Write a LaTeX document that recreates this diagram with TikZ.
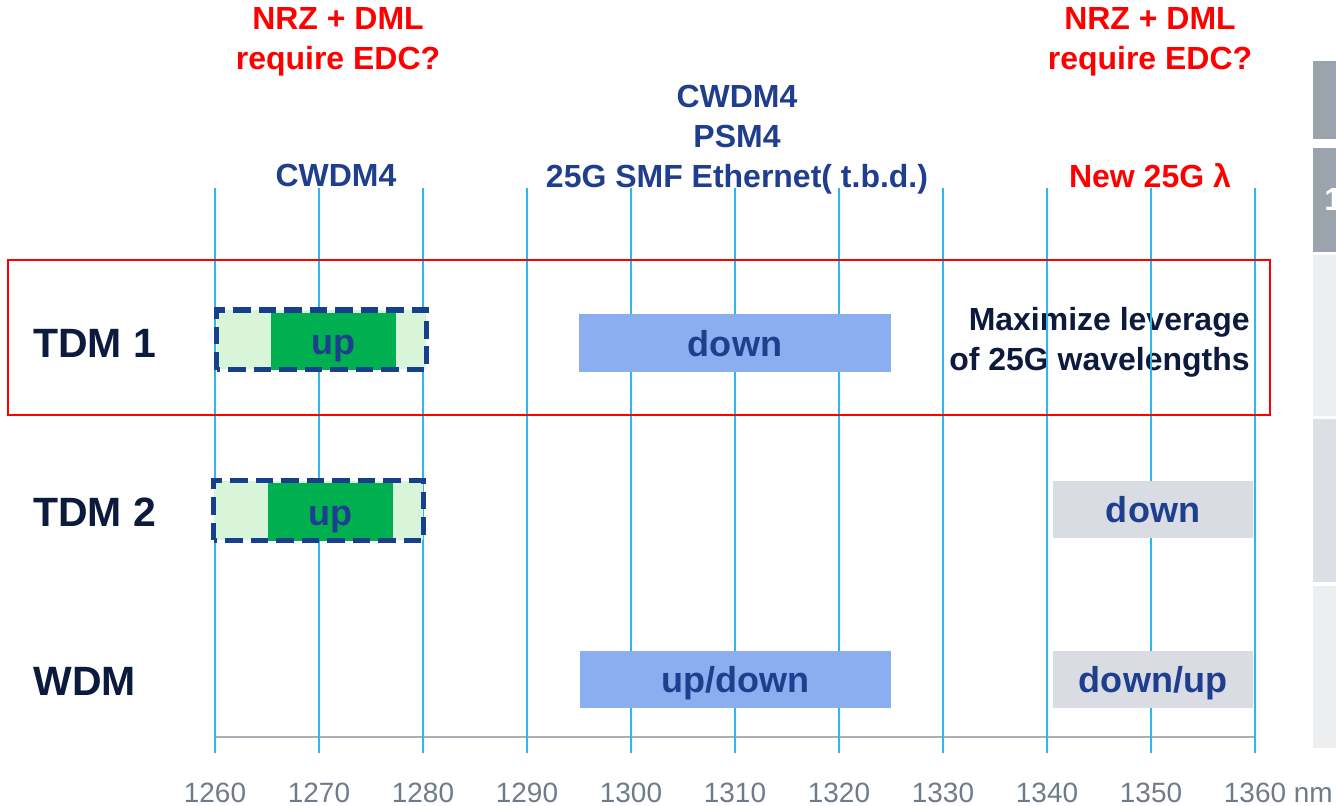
\documentclass[tikz,border=0pt]{standalone}
\usepackage{fontspec}
\setmainfont{Liberation Sans}
\definecolor{gridcyan}{HTML}{2DB7EB}
\definecolor{axisgray}{HTML}{A7AEB6}
\definecolor{tickgray}{HTML}{6E7B8B}
\definecolor{notered}{HTML}{FF0000}
\definecolor{noteblue}{HTML}{1F3E8E}
\definecolor{labelnavy}{HTML}{0C1A3E}
\definecolor{slotline}{HTML}{163F8C}
\definecolor{slotlight}{HTML}{D9F5D9}
\definecolor{upgreen}{HTML}{00B050}
\definecolor{downblue}{HTML}{8BAEF0}
\definecolor{downgray}{HTML}{D9DCE3}
\definecolor{paneldark}{HTML}{9BA3AC}
\definecolor{panelmid}{HTML}{DCDFE3}
\definecolor{panellight}{HTML}{EDEEF0}

\begin{document}
\begin{tikzpicture}[
    gridline/.style={draw=gridcyan, line width=1.1pt},
    axisline/.style={draw=axisgray, line width=1.1pt},
    ticklabel/.style={font=\fontsize{15.9}{19}\selectfont, text=tickgray, inner sep=0pt},
    headnote/.style={font=\fontsize{18.2}{22.6}\selectfont\bfseries, align=center, inner sep=0pt, text=noteblue},
    rednote/.style={headnote, text=notered},
    rowlabel/.style={font=\fontsize{23.3}{28}\selectfont\bfseries, text=labelnavy, anchor=west, inner sep=0pt},
    rowframe/.style={draw=notered, line width=1.4pt, minimum width=25.24cm, minimum height=3.10cm, inner sep=0pt},
    slotbox/.style={fill=slotlight, minimum width=4.18cm, minimum height=1.18cm, inner sep=0pt},
    slotdash/.style={draw=slotline, line width=3pt, dash pattern=on 10pt off 4.5pt},
    band/.style={inner sep=0pt, minimum height=1.15cm, text height=15pt, text depth=0pt,
                 font=\fontsize{20.5}{24}\selectfont\bfseries, text=noteblue},
    upbox/.style={band, fill=upgreen, minimum width=2.50cm},
    downbox/.style={band, fill=downblue, minimum width=6.23cm},
    graybox/.style={band, fill=downgray, minimum width=4.00cm}
  ]
    \useasboundingbox (0,0) rectangle (26.72,16.12);

    % this text sits under the grid lines
    \node[headnote, text=labelnavy, anchor=east, align=right] (leverage) at (25.00,9.27)
      {Maximize leverage\\of 25G wavelengths};

    % wavelength grid (10 nm = 2.08cm, 1260 nm at x=4.30)
    \draw[axisline] (4.30,1.38) -- (25.10,1.38);
    \foreach \i in {0,...,10}
      \draw[gridline] ({4.30+2.08*\i},12.36) -- ({4.30+2.08*\i},1.06);
    \foreach \wl [count=\i from 0] in {1260,1270,...,1350}
      \node[ticklabel] (tick\wl) at ({4.30+2.08*\i},0.26) {\wl};
    \node[ticklabel] (tick1360) at (25.10,0.26) {1360\rlap{ nm}};

    \node[rednote] (edcleft)  at (6.76,15.29)  {NRZ + DML\\require EDC?};
    \node[rednote] (edcright) at (23.00,15.29) {NRZ + DML\\require EDC?};
    \node[headnote] (cwdmleft) at (6.72,12.61) {CWDM4};
    \node[headnote] (cwdmmid)  at (14.74,13.33) {CWDM4\\PSM4\\25G SMF Ethernet( t.b.d.)};
    \node[rednote]  (newlambda) at (23.00,12.61) {New 25G λ};

    \node[rowframe] (frameA) at (12.78,9.37) {};

    \node[rowlabel] (tdmA) at (0.66,9.26) {TDM 1};
    \node[rowlabel] (tdmB) at (0.66,5.88) {TDM 2};
    \node[rowlabel] (wdm)  at (0.66,2.50) {WDM};

    % TDM 1
    \node[slotbox] (slotA) at (6.43,9.32) {};
    \node[upbox]   (upA)   at (6.67,9.29) {up};
    \draw[slotdash] (slotA.south west) rectangle (slotA.north east);
    \node[downbox] (downA) at (14.70,9.26) {down};

    % TDM 2
    \node[slotbox] (slotB) at (6.37,5.91) {};
    \node[upbox]   (upB)   at (6.61,5.88) {up};
    \draw[slotdash] (slotB.south west) rectangle (slotB.north east);
    \node[graybox] (downB) at (23.06,5.93) {down};

    % WDM
    \node[downbox] (updownW) at (14.71,2.53) {up/down};
    \node[graybox] (downupW) at (23.06,2.53) {down/up};

    % cut-off side panels
    \begin{scope}
      \clip (26.26,0) rectangle (26.72,16.12);
      \fill[paneldark]  (26.26,14.90) rectangle (26.72,13.34);
      \fill[paneldark]  (26.26,13.16) rectangle (26.72,11.08);
      \fill[panellight] (26.26,11.02) rectangle (26.72,7.80);
      \fill[panelmid]   (26.26,7.74)  rectangle (26.72,4.48);
      \fill[panellight] (26.26,4.40)  rectangle (26.72,1.16);
      \node[font=\fontsize{18.2}{22}\selectfont\bfseries, text=white, anchor=west, inner sep=0pt]
        (panelnum) at (26.48,12.13) {1};
    \end{scope}
  \end{tikzpicture}
\end{document}
